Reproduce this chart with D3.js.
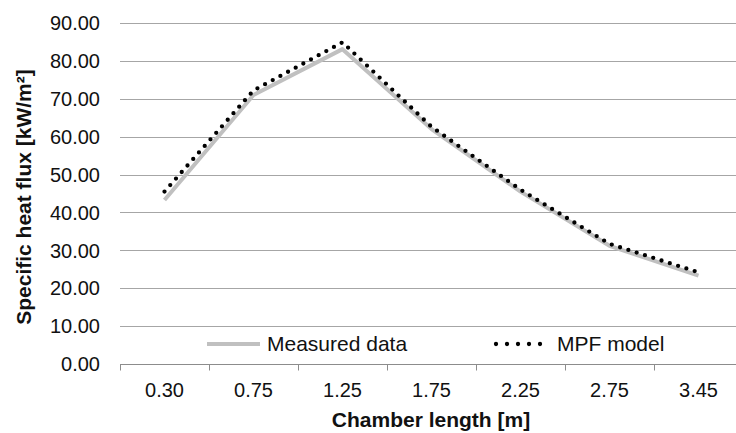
<!DOCTYPE html>
<html>
<head>
<meta charset="utf-8">
<script src="https://cdn.jsdelivr.net/npm/d3@7"></script>
<style>
  body { margin: 0; background: #fff; }
  svg text { font-family: "Liberation Sans", Arial, sans-serif; fill: #111; }
</style>
</head>
<body>
<svg id="chart" width="736" height="433"></svg>
<script>
// chamber positions (category labels)
const lengths = ["0.30", "0.75", "1.25", "1.75", "2.25", "2.75", "3.45"];
// specific heat flux, kW/m2
const measured = [43.3, 71.0, 83.1, 62.0, 45.5, 31.2, 23.3];
const mpfModel = [45.5, 72.2, 84.9, 62.6, 46.0, 31.7, 24.2];
const yTicks = [0, 10, 20, 30, 40, 50, 60, 70, 80, 90];

const svg = d3.select("#chart");

const x = d3.scaleBand()
    .domain(lengths)
    .range([120, 743]);

const y = d3.scaleLinear()
    .domain([0, 90])
    .range([364, 23]);

// horizontal gridlines
svg.append("g")
    .selectAll("line")
    .data(yTicks.filter(d => d > 0))
    .enter().append("line")
    .attr("x1", 120)
    .attr("x2", 743)
    .attr("y1", d => Math.round(y(d)) + 0.5)
    .attr("y2", d => Math.round(y(d)) + 0.5)
    .attr("stroke", "#a6a6a6")
    .attr("stroke-width", 1);

// y tick labels
svg.append("g")
    .selectAll("text")
    .data(yTicks)
    .enter().append("text")
    .attr("x", 100)
    .attr("y", d => y(d))
    .attr("dy", "0.36em")
    .attr("text-anchor", "end")
    .attr("font-size", 20)
    .text(d => d3.format(".2f")(d));

// x axis
const xAxis = svg.append("g")
    .attr("transform", "translate(0," + (Math.round(y(0)) + 0.5) + ")");

xAxis.append("line")
    .attr("x1", 120)
    .attr("x2", 743)
    .attr("stroke", "#8c8c8c");

// ticks sit on the band boundaries
xAxis.selectAll(".tick")
    .data(lengths)
    .enter().append("line")
    .attr("class", "tick")
    .attr("x1", d => Math.round(x(d)) + 0.5)
    .attr("x2", d => Math.round(x(d)) + 0.5)
    .attr("y1", 0)
    .attr("y2", 6)
    .attr("stroke", "#8c8c8c");

xAxis.selectAll("text")
    .data(lengths)
    .enter().append("text")
    .attr("x", d => x(d) + x.bandwidth() / 2)
    .attr("y", 32)
    .attr("text-anchor", "middle")
    .attr("font-size", 20)
    .text(d => d);

// axis titles
svg.append("text")
    .attr("x", 431)
    .attr("y", 427)
    .attr("text-anchor", "middle")
    .attr("font-size", 21)
    .attr("font-weight", "bold")
    .text("Chamber length [m]");

svg.append("text")
    .attr("transform", "translate(31,197) rotate(-90)")
    .attr("text-anchor", "middle")
    .attr("font-size", 21)
    .attr("font-weight", "bold")
    .text("Specific heat flux [kW/m²]");

const line = d3.line()
    .x((d, i) => x(lengths[i]) + x.bandwidth() / 2)
    .y(d => y(d));

// measured data
svg.append("path")
    .datum(measured)
    .attr("d", line)
    .attr("fill", "none")
    .attr("stroke", "#c0c0c0")
    .attr("stroke-width", 4)
    .attr("stroke-linejoin", "round");

// MPF model, round dots
svg.append("path")
    .datum(mpfModel)
    .attr("d", line)
    .attr("fill", "none")
    .attr("stroke", "#000")
    .attr("stroke-width", 4.3)
    .attr("stroke-linecap", "round")
    .attr("stroke-dasharray", "0,8.7");

// legend
const legend = svg.append("g");

legend.append("line")
    .attr("x1", 207).attr("x2", 260)
    .attr("y1", 344).attr("y2", 344)
    .attr("stroke", "#c0c0c0")
    .attr("stroke-width", 4);

legend.append("text")
    .attr("x", 267)
    .attr("y", 351)
    .attr("font-size", 21)
    .text("Measured data");

legend.append("line")
    .attr("x1", 496).attr("x2", 551)
    .attr("y1", 344).attr("y2", 344)
    .attr("stroke", "#000")
    .attr("stroke-width", 4.3)
    .attr("stroke-linecap", "round")
    .attr("stroke-dasharray", "0,11");

legend.append("text")
    .attr("x", 557)
    .attr("y", 351)
    .attr("font-size", 21)
    .text("MPF model");
</script>
</body>
</html>
